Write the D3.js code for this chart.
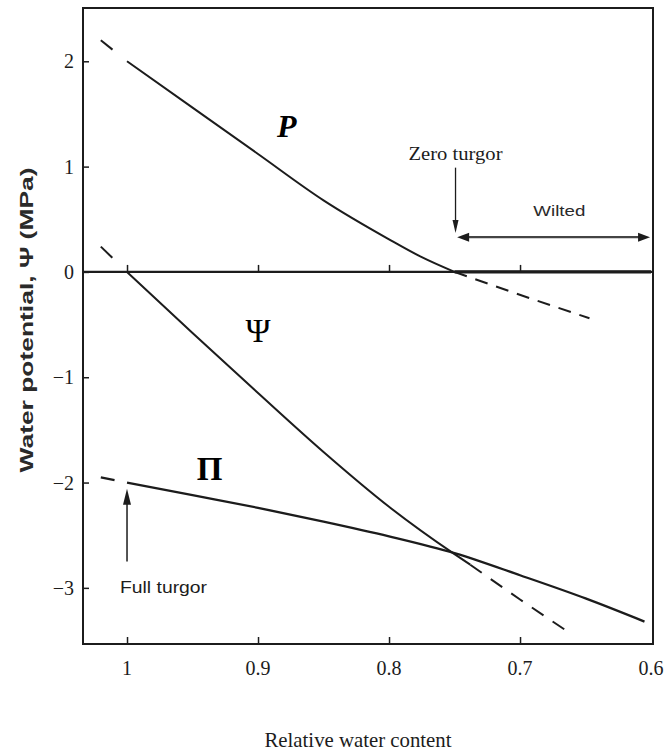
<!DOCTYPE html>
<html>
<head>
<meta charset="utf-8">
<script src="https://cdn.jsdelivr.net/npm/d3@7"></script>
<style>
  html, body { margin: 0; padding: 0; background: #fff; }
  svg { display: block; }
</style>
</head>
<body>
<svg id="chart" width="667" height="752"></svg>
<script>
// ---------- data ----------
const xTicks = [1, 0.9, 0.8, 0.7, 0.6];
const xTickLabels = ["1", "0.9", "0.8", "0.7", "0.6"];
const yTicks = [2, 1, 0, -1, -2, -3];
const yTickLabels = ["2", "1", "0", "\u22121", "\u22122", "\u22123"];

// Turgor pressure P
const pRWC = [1.0, 0.95, 0.9, 0.85, 0.8, 0.775, 0.75];
const pVal = [2.0, 1.56, 1.12, 0.68, 0.31, 0.14, 0.0];
const pWiltRWC = [0.75, 0.6];
const pWiltVal = [0.0, 0.0];
const pExtLeftRWC = [1.02, 1.0];
const pExtLeftVal = [2.2, 2.0];
const pExtRightRWC = [0.75, 0.69, 0.647];
const pExtRightVal = [0.0, -0.26, -0.44];

// Water potential Psi
const psiRWC = [1.0, 0.95, 0.9, 0.85, 0.8, 0.75, 0.738];
const psiVal = [0.0, -0.58, -1.15, -1.71, -2.23, -2.68, -2.78];
const psiExtLeftRWC = [1.02, 1.0];
const psiExtLeftVal = [0.24, 0.0];
const psiExtRightRWC = [0.738, 0.70, 0.663];
const psiExtRightVal = [-2.78, -3.11, -3.42];

// Osmotic potential Pi
const piRWC = [1.0, 0.95, 0.9, 0.85, 0.8, 0.75, 0.7, 0.65, 0.605];
const piVal = [-2.0, -2.12, -2.24, -2.37, -2.51, -2.67, -2.88, -3.10, -3.32];
const piExtLeftRWC = [1.02, 1.0];
const piExtLeftVal = [-1.95, -2.0];

// annotation anchors (data units)
const zeroTurgorRWC = 0.75;
const fullTurgorRWC = 1.0;
const wiltedRange = [0.748, 0.6];

// ---------- layout ----------
const svg = d3.select("#chart");
const L = 83, R = 653, T = 8, B = 644;
const x = d3.scaleLinear().domain([1.0336, 0.5985]).range([L, R]);
const y = d3.scaleLinear().domain([2.506, -3.533]).range([T, B]);
const ink = "#1c1c1c";
const serif = "'Liberation Serif', 'Times New Roman', serif";
const sans = "'Liberation Sans', Arial, sans-serif";

const zip = (a, b) => a.map((v, i) => [v, b[i]]);
const line = d3.line().x(d => x(d[0])).y(d => y(d[1])).curve(d3.curveMonotoneX);

// frame
svg.append("rect")
  .attr("x", L).attr("y", T).attr("width", R - L).attr("height", B - T)
  .attr("fill", "none").attr("stroke", ink).attr("stroke-width", 2);

// bottom axis (ticks inward)
const xAxis = d3.axisBottom(x).tickValues(xTicks.slice(0, 4))
  .tickSize(-7).tickFormat("");
const gx = svg.append("g").attr("transform", `translate(0,${B})`).call(xAxis);
gx.select(".domain").remove();
gx.selectAll("line").attr("stroke", ink).attr("stroke-width", 1.5);

svg.append("g").selectAll("text").data(xTicks).join("text")
  .attr("x", d => x(d)).attr("y", B + 31)
  .attr("text-anchor", "middle")
  .attr("font-family", serif).attr("font-size", 20).attr("fill", ink)
  .text((d, i) => xTickLabels[i]);

// left axis (ticks inward)
const yAxis = d3.axisLeft(y).tickValues(yTicks).tickSize(-6).tickFormat("");
const gy = svg.append("g").attr("transform", `translate(${L},0)`).call(yAxis);
gy.select(".domain").remove();
gy.selectAll("line").attr("stroke", ink).attr("stroke-width", 1.5);

svg.append("g").selectAll("text").data(yTicks).join("text")
  .attr("x", L - 9).attr("y", d => y(d) + 7)
  .attr("text-anchor", "end")
  .attr("font-family", serif).attr("font-size", 20).attr("fill", ink)
  .text((d, i) => yTickLabels[i]);

// zero line with ticks
const zAxis = d3.axisBottom(x).tickValues(xTicks.slice(0, 4)).tickSize(-7).tickFormat("");
const gz = svg.append("g").attr("transform", `translate(0,${y(0)})`).call(zAxis);
gz.select(".domain").attr("stroke", ink).attr("stroke-width", 2.2)
  .attr("d", `M${L},0H${R}`);
gz.selectAll("line").attr("stroke", ink).attr("stroke-width", 1.5);

// curves
function drawLine(xs, ys, dash, w) {
  svg.append("path").datum(zip(xs, ys))
    .attr("d", line).attr("fill", "none")
    .attr("stroke", ink).attr("stroke-width", w || 2)
    .attr("stroke-linecap", "butt")
    .attr("stroke-dasharray", dash || null);
}
drawLine(pRWC, pVal);
drawLine(pWiltRWC, pWiltVal, null, 3.2);
drawLine(pExtLeftRWC, pExtLeftVal, "15,20");
drawLine(pExtRightRWC, pExtRightVal, "13,9");
drawLine(psiRWC, psiVal);
drawLine(psiExtLeftRWC, psiExtLeftVal, "16,22");
drawLine(psiExtRightRWC, psiExtRightVal, "14,11");
drawLine(piRWC, piVal, null, 2.3);
drawLine(piExtLeftRWC, piExtLeftVal, "14,14", 2.3);

// curve labels
svg.append("text").attr("x", x(0.878)).attr("y", y(1.28))
  .attr("font-family", serif).attr("font-size", 32).attr("font-weight", "bold")
  .attr("font-style", "italic").attr("fill", "#000").attr("text-anchor", "middle")
  .text("P");
svg.append("text").attr("x", x(0.9)).attr("y", y(-0.67))
  .attr("font-family", serif).attr("font-size", 34).attr("fill", "#000")
  .attr("text-anchor", "middle").text("\u03A8");
svg.append("text").attr("x", x(0.937)).attr("y", y(-1.98))
  .attr("font-family", serif).attr("font-size", 33).attr("font-weight", "bold")
  .attr("fill", "#000").attr("text-anchor", "middle").text("\u03A0");

// arrowhead helper
function head(tx, ty, dir, len, wid) {
  let p;
  if (dir === "down") p = [[tx, ty], [tx - wid / 2, ty - len], [tx + wid / 2, ty - len]];
  if (dir === "up") p = [[tx, ty], [tx - wid / 2, ty + len], [tx + wid / 2, ty + len]];
  if (dir === "left") p = [[tx, ty], [tx + len, ty - wid / 2], [tx + len, ty + wid / 2]];
  if (dir === "right") p = [[tx, ty], [tx - len, ty - wid / 2], [tx - len, ty + wid / 2]];
  svg.append("path").attr("d", "M" + p.map(q => q.join(",")).join("L") + "Z").attr("fill", ink);
}

// Zero turgor
const zx = x(zeroTurgorRWC) + 1;
svg.append("line").attr("x1", zx).attr("x2", zx).attr("y1", y(0.99)).attr("y2", y(0.45))
  .attr("stroke", ink).attr("stroke-width", 1.3);
head(zx, y(0.37), "down", 13, 6);
svg.append("text").attr("x", zx).attr("y", y(1.06))
  .attr("text-anchor", "middle").attr("font-family", serif).attr("font-size", 19)
  .attr("fill", ink).attr("textLength", 94).attr("lengthAdjust", "spacingAndGlyphs")
  .text("Zero turgor");

// Wilted double arrow
const wy = y(0.33);
svg.append("line").attr("x1", x(wiltedRange[0]) + 8).attr("x2", x(wiltedRange[1]) - 10)
  .attr("y1", wy).attr("y2", wy).attr("stroke", "#444").attr("stroke-width", 2.4);
head(x(wiltedRange[0]), wy, "left", 12, 9);
head(x(wiltedRange[1]) - 1, wy, "right", 12, 9);
svg.append("text").attr("x", x(0.67)).attr("y", y(0.53))
  .attr("text-anchor", "middle").attr("font-family", sans).attr("font-size", 15)
  .attr("fill", "#2a2a2a").attr("textLength", 52).attr("lengthAdjust", "spacingAndGlyphs")
  .text("Wilted");

// Full turgor
const fx = x(fullTurgorRWC);
svg.append("line").attr("x1", fx).attr("x2", fx).attr("y1", y(-2.75)).attr("y2", y(-2.15))
  .attr("stroke", ink).attr("stroke-width", 1.5);
head(fx, y(-2.06), "up", 16, 8);
svg.append("text").attr("x", fx - 7).attr("y", y(-3.05))
  .attr("font-family", sans).attr("font-size", 16)
  .attr("fill", ink).attr("textLength", 87).attr("lengthAdjust", "spacingAndGlyphs")
  .text("Full turgor");

// axis titles
svg.append("text").attr("x", (L + R) / 2 - 10).attr("y", 747)
  .attr("text-anchor", "middle").attr("font-family", serif).attr("font-size", 21)
  .attr("fill", ink).attr("textLength", 187).attr("lengthAdjust", "spacingAndGlyphs")
  .text("Relative water content");

svg.append("text").attr("transform", "translate(33,320) rotate(-90)")
  .attr("text-anchor", "middle").attr("font-family", sans).attr("font-size", 19)
  .attr("font-weight", "bold").attr("fill", "#2a2a2a")
  .attr("textLength", 305).attr("lengthAdjust", "spacingAndGlyphs")
  .text("Water potential, \u03A8 (MPa)");
</script>
</body>
</html>
